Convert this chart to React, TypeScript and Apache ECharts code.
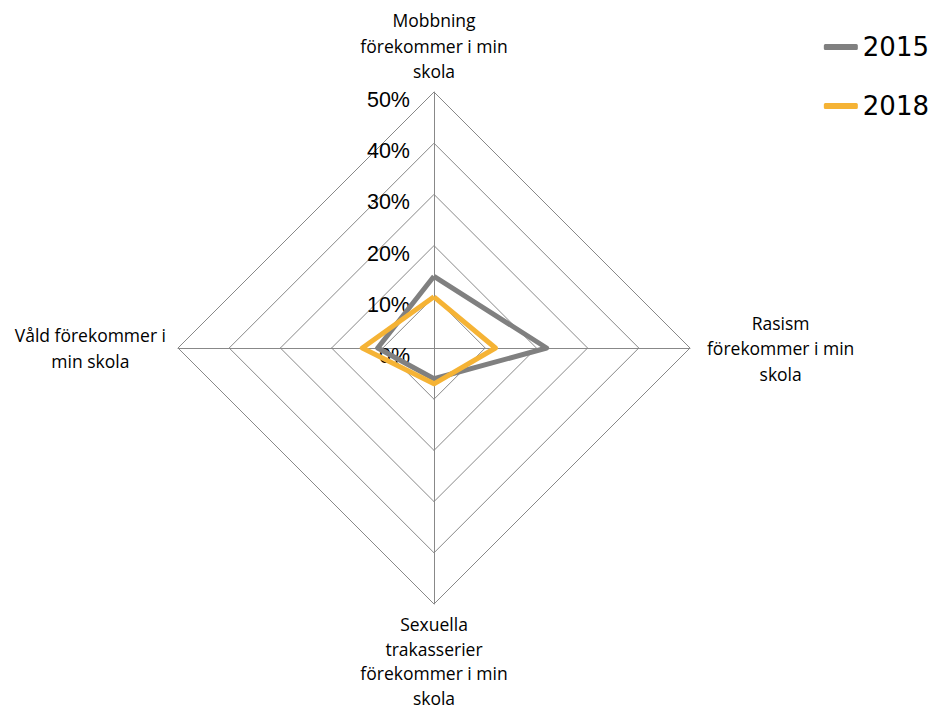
import React, { useEffect, useRef } from "react";
import * as echarts from "echarts";

// Categories in ECharts radar order (counter-clockwise from top: top, left, bottom, right)
const categories = [
  "Mobbning\nförekommer i min\nskola",
  "Våld förekommer i\nmin skola",
  "Sexuella\ntrakasserier\nförekommer i min\nskola",
  "Rasism\nförekommer i min\nskola",
];
const seriesNames = ["2015", "2018"];
const values2015 = [14, 11, 6, 22];
const values2018 = [10, 14, 7, 12];
const tickMin = 0;
const tickMax = 50;
const tickStep = 10;

const GRAY = "#808080";
const GOLD = "#F5B335";
const GRID = "#888888";

const nameBase = {
  align: "center",
  fontFamily: "Open Sans",
  fontSize: 17.5,
  lineHeight: 25.5,
  color: "#000",
};
// one rich style per indicator position: top, left, bottom, right
const richKeys = ["t", "l", "b", "r"];

export default function App() {
  const ref = useRef<HTMLDivElement>(null);
  useEffect(() => {
    if (!ref.current) return;
    const chart = echarts.init(ref.current, undefined, { renderer: "svg" });
    const cx = 434;
    const cy = 348;
    const r = 256;
    chart.setOption({
      animation: false,
      backgroundColor: "#ffffff",
      legend: {
        data: seriesNames,
        orient: "vertical",
        right: 4,
        top: 27,
        itemWidth: 34,
        itemHeight: 6,
        itemGap: 29,
        icon: "roundRect",
        textStyle: {
          fontFamily: "DejaVu Sans",
          fontSize: 26,
          lineHeight: 30,
          color: "#000",
        },
      },
      radar: {
        center: [cx, cy],
        radius: r,
        shape: "polygon",
        splitNumber: (tickMax - tickMin) / tickStep,
        nameGap: 8,
        axisName: {
          color: "#000",
          formatter: (name: string) => {
            const k = richKeys[categories.indexOf(name)] || "t";
            return name
              .split("\n")
              .map((l) => `{${k}|${l}}`)
              .join("\n");
          },
          rich: {
            t: { ...nameBase },
            l: { ...nameBase, padding: [0, 4, 0, 0] },
            b: { ...nameBase, lineHeight: 24.5 },
            r: { ...nameBase, padding: [0, 0, 0, 9] },
          },
        },
        indicator: categories.map((name) => ({ name, min: tickMin, max: tickMax })),
        axisLine: { lineStyle: { color: GRID, width: 1 } },
        splitLine: { lineStyle: { color: GRID, width: 1 } },
        splitArea: { show: false },
        axisTick: { show: false },
        axisLabel: { show: false },
      },
      grid: {
        left: cx,
        top: cy - r,
        width: 1,
        height: r,
      },
      xAxis: { type: "value", show: false },
      yAxis: {
        type: "value",
        min: tickMin,
        max: tickMax,
        interval: tickStep,
        axisLine: { show: false },
        axisTick: { show: false },
        splitLine: { show: false },
        axisLabel: {
          formatter: "{value}%",
          margin: 24,
          fontFamily: "Liberation Sans",
          fontSize: 21.5,
          color: "#000",
          verticalAlign: "top",
          lineHeight: 16,
        },
      },
      series: [
        {
          name: seriesNames[0],
          type: "radar",
          symbol: "none",
          itemStyle: { color: GRAY },
          lineStyle: { color: GRAY, width: 5 },
          data: [{ value: values2015, name: seriesNames[0] }],
        },
        {
          name: seriesNames[1],
          type: "radar",
          symbol: "none",
          itemStyle: { color: GOLD },
          lineStyle: { color: GOLD, width: 5 },
          data: [{ value: values2018, name: seriesNames[1] }],
        },
      ],
    });
    return () => chart.dispose();
  }, []);
  return (
    <div
      ref={ref}
      style={{ position: "fixed", left: 0, top: 0, width: 938, height: 711, background: "#fff" }}
    />
  );
}
